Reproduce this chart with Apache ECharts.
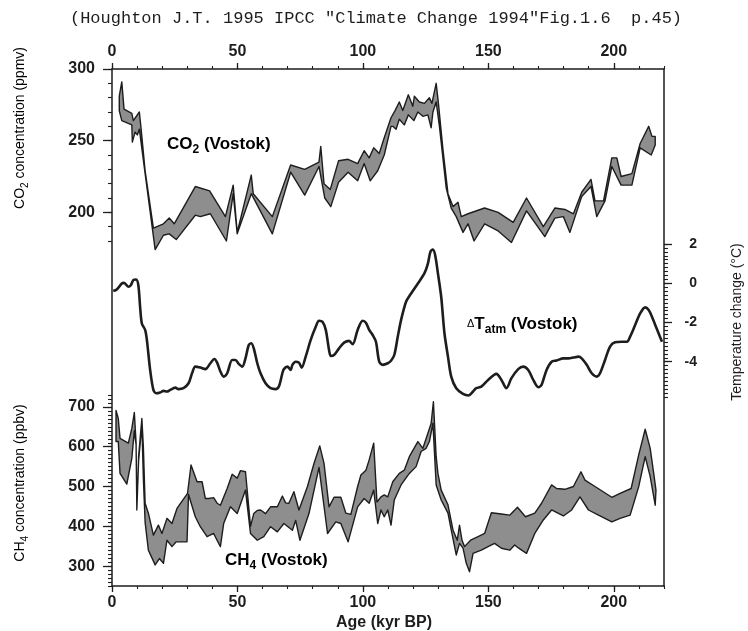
<!DOCTYPE html>
<html>
<head>
<meta charset="utf-8">
<title>Vostok CO2, temperature and CH4</title>
<script src="https://cdn.jsdelivr.net/npm/echarts@6/dist/echarts.min.js"></script>
<style>
  html, body { margin: 0; padding: 0; background: #fff; }
  #chart { width: 748px; height: 631px; }
</style>
</head>
<body>
<div id="chart"></div>
<script>
// ---- data: [age kyr BP, value] ----
const co2Upper = [
  [2.9, 281], [3.9, 291], [4.8, 272], [7.9, 269], [8.5, 264], [10.9, 270], [11.5, 260], [13.2, 229], [16.5, 189],
  [20.5, 192], [22.8, 196], [24.8, 192], [33.2, 218], [38.9, 215], [45.2, 197], [48.3, 219], [49.9, 186],
  [55.5, 226], [56.3, 213], [63.9, 197], [71.2, 233], [76.8, 230], [82.5, 235], [83.2, 246], [84.5, 220],
  [87.0, 216], [90.3, 236], [94.1, 237], [97.9, 234], [100.5, 243], [102.5, 238], [104.3, 245], [106.5, 241],
  [108.5, 252], [111.2, 266], [112.8, 271], [114.5, 277], [115.9, 271], [118.1, 282], [119.9, 274], [120.5, 281],
  [122.5, 277], [124.5, 276], [126.5, 280], [127.5, 276], [129.2, 290], [130.1, 276], [131.9, 244], [133.9, 213],
  [135.9, 204], [137.9, 207], [139.2, 197], [141.9, 199], [148.5, 203], [153.9, 200], [159.9, 193], [165.2, 210],
  [171.9, 190], [176.5, 203], [180.5, 202], [183.9, 199], [187.2, 214], [190.9, 223], [192.5, 208], [195.9, 208],
  [199.2, 238], [201.2, 238], [202.9, 225], [207.2, 227], [210.5, 248], [213.9, 260], [215.2, 253], [216.5, 253]
];
const co2Lower = [
  [2.9, 271], [3.9, 264], [7.9, 261], [8.1, 249], [9.2, 256], [10.1, 254], [10.9, 258], [13.2, 227], [17.2, 174],
  [20.5, 184], [22.8, 185], [25.6, 181], [33.2, 198], [35.2, 197], [39.2, 199], [45.6, 180], [48.3, 213], [49.9, 185],
  [55.5, 213], [63.9, 185], [71.2, 228], [76.8, 212], [82.5, 232], [84.8, 210], [87.2, 204], [90.3, 221], [94.1, 228],
  [97.9, 222], [100.5, 234], [102.9, 222], [105.9, 229], [108.5, 240], [111.2, 260], [111.9, 260], [113.2, 258],
  [114.5, 265], [116.5, 261], [118.1, 268], [120.3, 264], [121.9, 270], [123.9, 267], [125.9, 268], [127.2, 259],
  [127.9, 270], [129.2, 277], [130.5, 260], [133.2, 217], [135.2, 203], [137.2, 197], [139.9, 186], [141.9, 192],
  [144.3, 180], [148.5, 192], [153.9, 187], [159.2, 179], [165.2, 201], [172.5, 183], [176.5, 196], [179.9, 197],
  [182.5, 186], [187.2, 211], [190.9, 218], [193.2, 197], [196.5, 208], [199.2, 232], [202.9, 219], [207.2, 219],
  [210.5, 245], [214.9, 240], [216.5, 247]
];
const tempChange = [
  [0.5, -0.40], [1.9, -0.32], [3.9, -0.01], [4.8, 0.02], [6.5, -0.18], [7.5, -0.10], [8.5, 0.16], [9.6, 0.19],
  [10.5, -0.10], [11.2, -1.20], [11.9, -2.05], [13.2, -2.38], [13.9, -2.89], [15.2, -4.42], [16.5, -5.44],
  [17.6, -5.61], [19.2, -5.57], [20.5, -5.49], [21.9, -5.52], [23.2, -5.44], [25.2, -5.32], [26.5, -5.40],
  [28.5, -5.35], [30.5, -5.10], [31.9, -4.59], [33.2, -4.25], [35.2, -4.30], [37.2, -4.38], [39.2, -4.08],
  [40.8, -3.86], [41.9, -4.05], [43.2, -4.50], [44.5, -4.76], [45.9, -4.59], [47.9, -3.91], [49.2, -3.91],
  [50.5, -4.11], [51.9, -4.25], [53.2, -3.83], [54.5, -3.15], [55.5, -3.06], [56.5, -3.32], [57.9, -4.08],
  [59.2, -4.59], [61.2, -5.10], [63.2, -5.35], [65.2, -5.40], [66.5, -5.27], [67.9, -4.59], [68.5, -4.38],
  [69.9, -4.25], [71.2, -4.42], [71.9, -4.16], [73.2, -4.00], [74.5, -4.05], [75.6, -4.30], [77.2, -3.74],
  [79.2, -2.89], [81.2, -2.22], [82.5, -1.91], [83.9, -1.96], [85.2, -2.38], [86.5, -3.40], [87.2, -3.71],
  [88.5, -3.66], [90.5, -3.32], [92.5, -3.03], [94.5, -2.94], [95.9, -3.11], [97.9, -2.38], [99.9, -1.91],
  [101.2, -2.01], [102.5, -2.38], [103.9, -2.64], [105.2, -2.98], [106.5, -4.00], [107.9, -4.16], [109.9, -4.08],
  [111.2, -3.95], [112.5, -3.66], [113.9, -2.72], [115.2, -1.88], [117.2, -0.94], [119.2, -0.52], [121.9, -0.01],
  [124.5, 0.50], [125.9, 1.00], [126.9, 1.60], [127.9, 1.72], [128.8, 1.43], [129.9, 0.50], [131.2, -0.69],
  [132.5, -2.55], [133.9, -3.74], [135.2, -4.76], [137.2, -5.35], [139.9, -5.64], [142.1, -5.72], [143.9, -5.52],
  [145.2, -5.35], [147.2, -5.27], [149.9, -4.93], [153.2, -4.62], [155.2, -4.93], [157.2, -5.35], [159.2, -4.84],
  [161.9, -4.38], [163.9, -4.25], [165.9, -4.42], [167.9, -4.93], [169.9, -5.30], [171.2, -5.18], [173.2, -4.42],
  [175.2, -4.00], [177.2, -3.94], [179.9, -3.83], [181.9, -3.83], [183.9, -3.79], [185.9, -3.74], [187.2, -3.83],
  [189.2, -4.16], [191.2, -4.59], [193.2, -4.76], [194.5, -4.59], [196.5, -3.91], [198.5, -3.23], [200.5, -3.01],
  [203.2, -2.98], [205.2, -2.98], [206.5, -2.72], [208.5, -2.13], [210.5, -1.54], [212.5, -1.23], [213.9, -1.37],
  [215.2, -1.71], [217.2, -2.35], [219.2, -2.98]
];
const ch4Upper = [
  [1.6, 691], [2.5, 671], [3.2, 621], [6.5, 609], [7.9, 646], [8.9, 686], [9.6, 609], [9.9, 441], [10.6, 575],
  [11.9, 671], [12.5, 600], [13.2, 458], [14.5, 433], [16.5, 378], [18.5, 403], [19.9, 382], [21.9, 420],
  [23.9, 407], [25.9, 445], [30.1, 483], [31.5, 554], [33.9, 512], [35.9, 512], [37.2, 470], [38.5, 470],
  [40.5, 472], [41.9, 458], [43.2, 453], [45.9, 495], [47.9, 531], [49.9, 521], [51.2, 540], [53.2, 537],
  [55.2, 400], [56.5, 432], [57.9, 440], [59.2, 441], [61.2, 432], [63.2, 449], [65.9, 449], [67.9, 476],
  [69.2, 459], [70.5, 458], [72.5, 487], [74.5, 441], [77.9, 500], [80.5, 558], [82.8, 602], [84.5, 558],
  [86.5, 449], [88.5, 473], [91.2, 473], [93.2, 433], [95.2, 430], [97.9, 500], [99.2, 529], [101.2, 541],
  [102.5, 567], [104.3, 609], [105.6, 461], [107.2, 474], [108.5, 479], [109.9, 474], [111.9, 512], [114.5, 533],
  [116.5, 541], [118.5, 575], [121.9, 613], [123.9, 596], [125.9, 634], [127.2, 659], [128.1, 713], [129.2, 575],
  [129.9, 533], [131.2, 491], [133.9, 454], [135.9, 391], [137.6, 365], [138.5, 403], [139.5, 365], [140.5, 349],
  [142.9, 365], [145.9, 374], [148.5, 382], [151.2, 434], [155.2, 431], [158.5, 428], [161.6, 448], [164.8, 424],
  [168.5, 433], [171.2, 458], [175.2, 504], [177.2, 495], [180.5, 493], [183.9, 500], [186.9, 537], [188.5, 516],
  [192.5, 500], [199.2, 473], [202.5, 483], [206.9, 495], [209.9, 579], [212.5, 644], [214.5, 596], [215.9, 533],
  [216.8, 491]
];
const ch4Lower = [
  [1.6, 613], [2.5, 613], [3.2, 533], [5.9, 506], [7.9, 571], [8.9, 640], [9.6, 605], [9.9, 441], [10.6, 565],
  [11.9, 655], [12.5, 520], [13.2, 410], [14.5, 340], [17.2, 303], [18.9, 319], [20.5, 307], [21.9, 365],
  [23.9, 349], [25.6, 361], [29.9, 361], [30.5, 480], [33.2, 424], [35.2, 399], [37.9, 374], [40.5, 382],
  [43.2, 349], [44.5, 407], [47.2, 449], [49.9, 432], [53.2, 491], [55.2, 382], [57.9, 365], [60.5, 374],
  [63.2, 399], [65.9, 386], [68.5, 407], [71.9, 390], [73.2, 415], [74.9, 365], [78.5, 432], [82.5, 548],
  [85.9, 382], [89.2, 411], [91.2, 407], [94.1, 361], [97.9, 449], [100.5, 470], [102.5, 458], [104.3, 491],
  [105.9, 407], [107.2, 441], [108.5, 424], [109.9, 441], [111.2, 403], [112.5, 466], [115.2, 504], [118.5, 533],
  [121.2, 550], [123.2, 588], [125.2, 596], [126.5, 613], [127.9, 659], [129.2, 504], [131.2, 466], [133.9, 433],
  [135.2, 391], [137.2, 328], [138.5, 357], [139.9, 345], [141.2, 307], [142.5, 286], [143.9, 332], [147.2, 340],
  [149.9, 349], [152.5, 357], [155.2, 345], [158.5, 340], [160.5, 353], [162.1, 345], [165.2, 332], [168.5, 382],
  [171.9, 416], [175.2, 441], [179.9, 426], [183.2, 441], [186.5, 474], [189.9, 441], [193.9, 428], [199.2, 411],
  [202.5, 420], [206.5, 428], [209.9, 499], [212.5, 575], [214.5, 525], [216.5, 453]
];

// tick labels
const ageTicks = [0, 50, 100, 150, 200];
const co2Ticks = [200, 250, 300];
const tempTicks = [-4, -2, 0, 2];
const ch4Ticks = [300, 400, 500, 600, 700];

const INK = '#1d1d1d';
const FILL = '#8e8e8e';
const LEFT = 112, RIGHT = 84;
const SANS = '"Liberation Sans", Arial, sans-serif';
const numLabel = { color: INK, fontFamily: SANS, fontWeight: 'bold', fontSize: 16 };

function band(upper, lower, xi, yi) {
    return {
        type: 'custom',
        xAxisIndex: xi,
        yAxisIndex: yi,
        silent: true,
        clip: false,
        data: [[0, 0]],
        renderItem: function (params, api) {
            const ring = upper.concat(lower.slice().reverse());
            return {
                type: 'polygon',
                shape: { points: ring.map(p => api.coord(p)) },
                style: { fill: FILL, stroke: INK, lineWidth: 1.4, lineJoin: 'round' },
            };
        },
    };
}

function ageAxis(position, major) {
    return {
        type: 'value', gridIndex: 0, position, min: 0, max: 220,
        interval: major ? 50 : 10,
        axisLine: { show: major, onZero: false, lineStyle: { color: INK, width: 1.5 } },
        axisTick: major
            ? { show: true, length: 6, customValues: ageTicks, lineStyle: { color: INK, width: 1.3 } }
            : { show: true, length: 3, lineStyle: { color: INK, width: 1.1 } },
        axisLabel: major
            ? { show: true, customValues: ageTicks, margin: 9, ...numLabel,
                formatter: v => (v % 50 === 0 && v <= 200 ? String(v) : '') }
            : { show: false },
        splitLine: { show: false },
    };
}

function hiddenAge(gridIndex) {
    return { type: 'value', gridIndex, min: 0, max: 220, show: false, axisLine: { onZero: false } };
}

function valueAxis(gridIndex, position, min, max, major, ticks, opts) {
    return {
        type: 'value', gridIndex, position, min, max,
        interval: opts.interval,
        axisLine: { show: false, onZero: false },
        axisTick: major
            ? { show: true, length: opts.majorLen, customValues: ticks, lineStyle: { color: INK, width: 1.3 } }
            : { show: true, length: 4, lineStyle: { color: INK, width: 1.1 } },
        axisLabel: major
            ? Object.assign({ show: true, customValues: ticks }, numLabel, opts.label)
            : { show: false },
        splitLine: { show: false },
    };
}

const chart = echarts.init(document.getElementById('chart'), null, { renderer: 'canvas' });

const labelRich = {
    a: { fontSize: 17, fontWeight: 'bold', fontFamily: SANS, color: INK, lineHeight: 24 },
    s: { fontSize: 12, fontWeight: 'bold', fontFamily: SANS, color: INK, verticalAlign: 'bottom' },
    d: { fontSize: 11, fontFamily: SANS, color: INK },
};

const option = {
    animation: false,
    backgroundColor: '#fff',
    grid: [
        { left: LEFT, right: RIGHT, top: 69, bottom: 45, outerBoundsMode: 'none' },
        { left: LEFT, right: RIGHT, top: 69, height: 172, outerBoundsMode: 'none' },
        { left: LEFT, right: RIGHT, top: 244, height: 153, outerBoundsMode: 'none' },
        { left: LEFT, right: RIGHT, top: 395, bottom: 45, outerBoundsMode: 'none' },
    ],
    xAxis: [
        ageAxis('top', true),
        ageAxis('top', false),
        ageAxis('bottom', true),
        ageAxis('bottom', false),
        hiddenAge(1),
        hiddenAge(2),
        hiddenAge(3),
    ],
    yAxis: [
        // frame sides
        { type: 'value', gridIndex: 0, position: 'left', min: 0, max: 1,
          axisLine: { show: true, onZero: false, lineStyle: { color: INK, width: 1.5 } },
          axisTick: { show: false }, axisLabel: { show: false }, splitLine: { show: false } },
        { type: 'value', gridIndex: 0, position: 'right', min: 0, max: 1,
          axisLine: { show: true, onZero: false, lineStyle: { color: INK, width: 1.5 } },
          axisTick: { show: false }, axisLabel: { show: false }, splitLine: { show: false } },
        // CO2
        valueAxis(1, 'left', 180, 300, true, co2Ticks,
            { interval: 10, majorLen: 9, label: { margin: 17, formatter: v => (v % 50 === 0 ? String(v) : '') } }),
        valueAxis(1, 'left', 180, 300, false, null, { interval: 10 }),
        // temperature
        valueAxis(2, 'right', -5.8, 2, true, tempTicks,
            { interval: 0.2, majorLen: 8, label: { margin: 33, align: 'right', fontSize: 14,
              formatter: v => (tempTicks.indexOf(Math.round(v * 10) / 10) >= 0 ? String(Math.round(v)) : '') } }),
        valueAxis(2, 'right', -5.8, 2, false, null, { interval: 0.2 }),
        // CH4
        valueAxis(3, 'left', 250, 730, true, ch4Ticks,
            { interval: 10, majorLen: 9, label: { margin: 17, formatter: v => (v % 100 === 0 ? String(v) : '') } }),
        valueAxis(3, 'left', 250, 730, false, null, { interval: 10 }),
    ],
    series: [
        band(co2Upper, co2Lower, 4, 2),
        {
            type: 'line',
            xAxisIndex: 5,
            yAxisIndex: 4,
            data: tempChange,
            smooth: 0.3,
            showSymbol: false,
            silent: true,
            clip: false,
            lineStyle: { color: INK, width: 2.6, join: 'round' },
        },
        band(ch4Upper, ch4Lower, 6, 6),
    ],
    graphic: [
        { type: 'text', x: 376, y: 18,
          style: { text: '(Houghton J.T. 1995 IPCC "Climate Change 1994"Fig.1.6  p.45)',
                   font: '17px "Liberation Mono", "DejaVu Sans Mono", monospace', fill: INK,
                   align: 'center', verticalAlign: 'middle' } },
        { type: 'text', x: 20, y: 128, rotation: Math.PI / 2,
          style: { text: '{a|CO}{s|2}{a| concentration (ppmv)}', align: 'center', verticalAlign: 'middle',
                   rich: { a: { fontSize: 14, fontFamily: SANS, color: INK, lineHeight: 20 },
                           s: { fontSize: 10, fontFamily: SANS, color: INK, verticalAlign: 'bottom' } } } },
        { type: 'text', x: 20, y: 483, rotation: Math.PI / 2,
          style: { text: '{a|CH}{s|4}{a| concentration (ppbv)}', align: 'center', verticalAlign: 'middle',
                   rich: { a: { fontSize: 14, fontFamily: SANS, color: INK, lineHeight: 20 },
                           s: { fontSize: 10, fontFamily: SANS, color: INK, verticalAlign: 'bottom' } } } },
        { type: 'text', x: 737, y: 322, rotation: Math.PI / 2,
          style: { text: 'Temperature change (°C)', font: '14px ' + SANS, fill: INK,
                   align: 'center', verticalAlign: 'middle' } },
        { type: 'text', x: 384, y: 623,
          style: { text: 'Age (kyr BP)', font: 'bold 16px ' + SANS, fill: INK,
                   align: 'center', verticalAlign: 'middle' } },
        { type: 'text', x: 167, y: 144,
          style: { text: '{a|CO}{s|2}{a| (Vostok)}', align: 'left', verticalAlign: 'middle', rich: labelRich } },
        { type: 'text', x: 467, y: 324,
          style: { text: '{d|\u0394}{a|T}{s|atm}{a| (Vostok)}', align: 'left', verticalAlign: 'middle', rich: labelRich } },
        { type: 'text', x: 225, y: 560,
          style: { text: '{a|CH}{s|4}{a| (Vostok)}', align: 'left', verticalAlign: 'middle', rich: labelRich } },
    ],
};

chart.setOption(option);
</script>
</body>
</html>
